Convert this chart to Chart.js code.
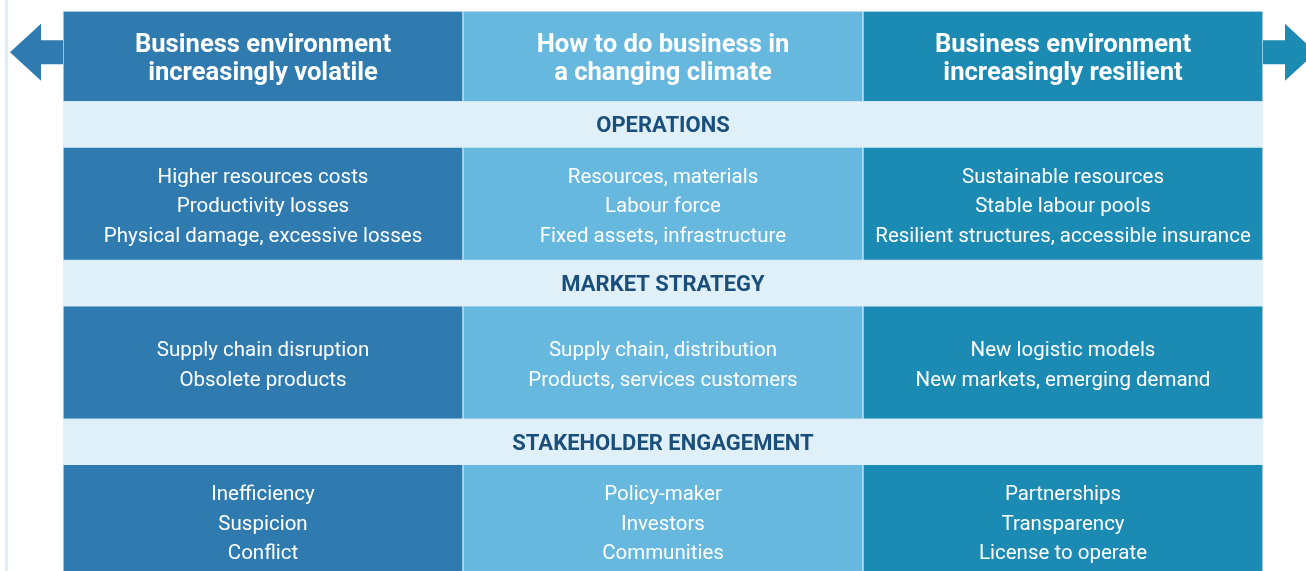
<!DOCTYPE html>
<html>
<head>
<meta charset="utf-8">
<script src="https://cdn.jsdelivr.net/npm/chart.js@4.4.1/dist/chart.umd.min.js"></script>
<style>
html, body { margin: 0; padding: 0; background: #fff; overflow: hidden; }
</style>
</head>
<body>
<canvas id="matrixChart" width="1306" height="571"></canvas>
<script>
// column headings (two lines each)
const columnTitles = [
	['Business environment', 'increasingly volatile'],
	['How to do business in', 'a changing climate'],
	['Business environment', 'increasingly resilient']
];
const sections = ['OPERATIONS', 'MARKET STRATEGY', 'STAKEHOLDER ENGAGEMENT'];

// one list per section for each column
const volatileItems = [
	['Higher resources costs', 'Productivity losses', 'Physical damage, excessive losses'],
	['Supply chain disruption', 'Obsolete products'],
	['Inefficiency', 'Suspicion', 'Conflict']
];
const businessItems = [
	['Resources, materials', 'Labour force', 'Fixed assets, infrastructure'],
	['Supply chain, distribution', 'Products, services customers'],
	['Policy-maker', 'Investors', 'Communities']
];
const resilientItems = [
	['Sustainable resources', 'Stable labour pools', 'Resilient structures, accessible insurance'],
	['New logistic models', 'New markets, emerging demand'],
	['Partnerships', 'Transparency', 'License to operate']
];
const columnItems = [volatileItems, businessItems, resilientItems];

const columnColors = ['#2f7baf', '#67b8de', '#1c8bb3'];
const bandColor = '#e0f0f8';
const sepColor = '#cfe7f4';

// row heights in y units
const HEADER_H = 2, BAND_H = 1, CELL_H = 2.5, Y_MAX = 12.35;

var datasets = [];
var rowCenters = { header: HEADER_H / 2, bands: [], cells: [] };
datasets.push({
	label: 'header',
	data: [0, 1, 2].map(() => [0, HEADER_H]),
	backgroundColor: columnColors,
	borderColor: sepColor,
	borderWidth: 1
});
var pos = HEADER_H;
sections.forEach(function (s, k) {
	datasets.push({
		label: s,
		data: [0, 1, 2].map(() => [pos, pos + BAND_H]),
		backgroundColor: bandColor,
		borderWidth: 0
	});
	rowCenters.bands.push(pos + BAND_H / 2);
	pos += BAND_H;
	datasets.push({
		label: s + ' cells',
		data: [0, 1, 2].map(() => [pos, pos + CELL_H]),
		backgroundColor: columnColors,
		borderColor: sepColor,
		borderWidth: 1
	});
	rowCenters.cells.push(pos + CELL_H / 2);
	pos += CELL_H;
});

function drawLines(ctx, lines, x, y, lh) {
	var top = y - (lines.length - 1) * lh / 2;
	lines.forEach(function (t, i) {
		ctx.fillText(t, x, top + i * lh);
	});
}

const decorPlugin = {
	id: 'decor',
	beforeDraw(chart) {
		const ctx = chart.ctx, area = chart.chartArea, y = chart.scales.y;
		ctx.save();
		// thin frame line on the left
		ctx.fillStyle = '#deedf7';
		ctx.fillRect(5, 0, 3, chart.height);
		var yc = y.getPixelForValue(rowCenters.header) - 4;
		// left arrow
		ctx.fillStyle = columnColors[0];
		ctx.beginPath();
		ctx.moveTo(area.left, yc - 12);
		ctx.lineTo(area.left - 22, yc - 12);
		ctx.lineTo(area.left - 22, yc - 28.5);
		ctx.lineTo(area.left - 53, yc);
		ctx.lineTo(area.left - 22, yc + 28.5);
		ctx.lineTo(area.left - 22, yc + 12);
		ctx.lineTo(area.left, yc + 12);
		ctx.closePath();
		ctx.fill();
		// right arrow
		ctx.fillStyle = columnColors[2];
		ctx.beginPath();
		ctx.moveTo(area.right, yc - 12);
		ctx.lineTo(area.right + 22, yc - 12);
		ctx.lineTo(area.right + 22, yc - 28.5);
		ctx.lineTo(area.right + 53, yc);
		ctx.lineTo(area.right + 22, yc + 28.5);
		ctx.lineTo(area.right + 22, yc + 12);
		ctx.lineTo(area.right, yc + 12);
		ctx.closePath();
		ctx.fill();
		ctx.restore();
	},
	afterDatasetsDraw(chart) {
		const ctx = chart.ctx, area = chart.chartArea, x = chart.scales.x, y = chart.scales.y;
		ctx.save();
		ctx.textAlign = 'center';
		ctx.textBaseline = 'middle';
		ctx.fillStyle = '#ffffff';
		ctx.font = 'bold 25.6px Roboto';
		columnTitles.forEach(function (lines, i) {
			drawLines(ctx, lines, x.getPixelForValue(i), y.getPixelForValue(rowCenters.header) + 3, 28.5);
		});
		ctx.fillStyle = '#1b4f7b';
		ctx.font = 'bold 22px Roboto';
		sections.forEach(function (s, k) {
			ctx.fillText(s, (area.left + area.right) / 2, y.getPixelForValue(rowCenters.bands[k]) + 2.5);
		});
		ctx.fillStyle = '#ffffff';
		ctx.font = '20.5px Roboto';
		columnItems.forEach(function (col, i) {
			col.forEach(function (lines, k) {
				drawLines(ctx, lines, x.getPixelForValue(i), y.getPixelForValue(rowCenters.cells[k]) + 3.5, 29.6);
			});
		});
		ctx.restore();
	}
};

var ctx = document.getElementById('matrixChart').getContext('2d');
var matrixChart = new Chart(ctx, {
	type: 'bar',
	data: {
		labels: ['volatile', 'business', 'resilient'],
		datasets: datasets
	},
	options: {
		responsive: false,
		animation: false,
		events: [],
		layout: { padding: { left: 63, right: 43, top: 11, bottom: 0 } },
		datasets: {
			bar: {
				grouped: false,
				barPercentage: 1,
				categoryPercentage: 1,
				borderSkipped: false
			}
		},
		scales: {
			x: { display: false },
			y: { display: false, min: 0, max: Y_MAX, reverse: true }
		},
		plugins: {
			legend: { display: false },
			tooltip: { enabled: false }
		}
	},
	plugins: [decorPlugin]
});
</script>
</body>
</html>
